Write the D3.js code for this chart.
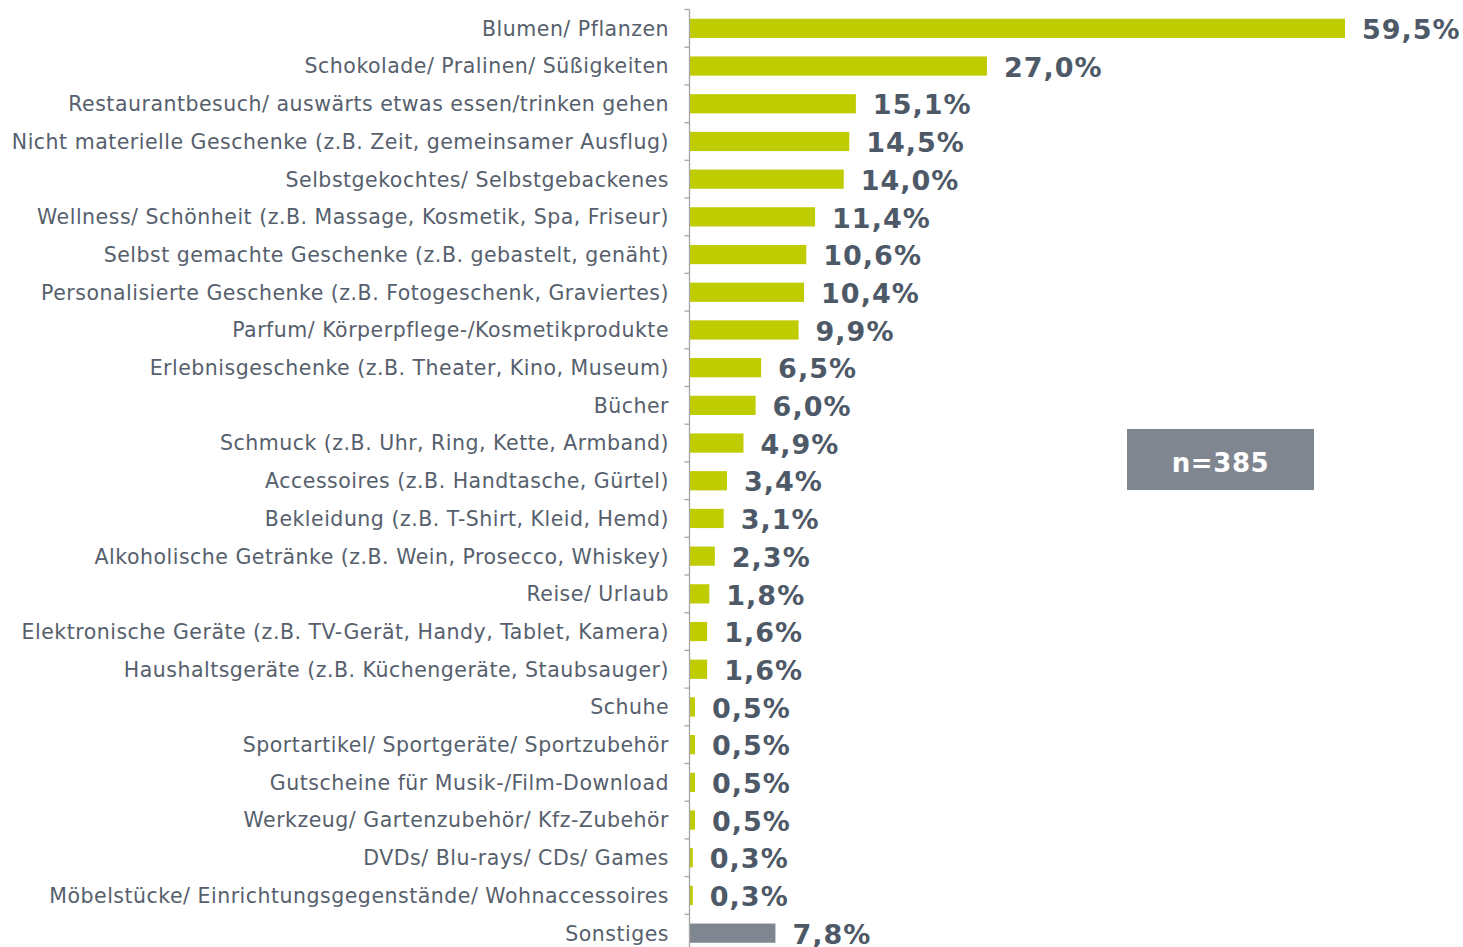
<!doctype html>
<html>
<head>
<meta charset="UTF-8">
<script src="https://cdnjs.cloudflare.com/ajax/libs/d3/7.8.5/d3.min.js"></script>
<style>
  body { margin: 0; background: #fff; }
  svg { display: block; font-family: "DejaVu Sans", Verdana, sans-serif; }
</style>
</head>
<body>
<svg width="1463" height="947"></svg>
<script>
// categories, top to bottom
var categories = [
  "Blumen/ Pflanzen",
  "Schokolade/ Pralinen/ Süßigkeiten",
  "Restaurantbesuch/ auswärts etwas essen/trinken gehen",
  "Nicht materielle Geschenke (z.B. Zeit, gemeinsamer Ausflug)",
  "Selbstgekochtes/ Selbstgebackenes",
  "Wellness/ Schönheit (z.B. Massage, Kosmetik, Spa, Friseur)",
  "Selbst gemachte Geschenke (z.B. gebastelt, genäht)",
  "Personalisierte Geschenke (z.B. Fotogeschenk, Graviertes)",
  "Parfum/ Körperpflege-/Kosmetikprodukte",
  "Erlebnisgeschenke (z.B. Theater, Kino, Museum)",
  "Bücher",
  "Schmuck (z.B. Uhr, Ring, Kette, Armband)",
  "Accessoires (z.B. Handtasche, Gürtel)",
  "Bekleidung (z.B. T-Shirt, Kleid, Hemd)",
  "Alkoholische Getränke (z.B. Wein, Prosecco, Whiskey)",
  "Reise/ Urlaub",
  "Elektronische Geräte (z.B. TV-Gerät, Handy, Tablet, Kamera)",
  "Haushaltsgeräte (z.B. Küchengeräte, Staubsauger)",
  "Schuhe",
  "Sportartikel/ Sportgeräte/ Sportzubehör",
  "Gutscheine für Musik-/Film-Download",
  "Werkzeug/ Gartenzubehör/ Kfz-Zubehör",
  "DVDs/ Blu-rays/ CDs/ Games",
  "Möbelstücke/ Einrichtungsgegenstände/ Wohnaccessoires",
  "Sonstiges"
];
var values = [59.5, 27.0, 15.1, 14.5, 14.0, 11.4, 10.6, 10.4, 9.9, 6.5, 6.0, 4.9, 3.4, 3.1, 2.3, 1.8, 1.6, 1.6, 0.5, 0.5, 0.5, 0.5, 0.3, 0.3, 7.8];
var sampleNote = "n=385";

var svg = d3.select("svg");
var x0 = 689.5;

var x = d3.scaleLinear().domain([0, 59.5]).range([x0, 1345]);
var y = d3.scaleBand().domain(categories).range([9.5, 9.5 + 37.7 * categories.length]).paddingInner(0.49).paddingOuter(0.245);

var fmt = function(v) { return v.toFixed(1).replace(".", ",") + "%"; };

// bars
svg.append("g").selectAll("rect")
  .data(values)
  .enter().append("rect")
  .attr("x", x0)
  .attr("y", function(d, i) { return y(categories[i]); })
  .attr("width", function(d) { return x(d) - x0; })
  .attr("height", y.bandwidth())
  .attr("fill", function(d, i) { return categories[i] == "Sonstiges" ? "#7f868f" : "#bfcc00"; });

// axis line + ticks between categories
var axis = svg.append("g").attr("stroke", "#a6a6a6").attr("stroke-width", 1.3);
axis.append("line").attr("x1", x0).attr("x2", x0).attr("y1", 9.5).attr("y2", 947);
var step = y.step();
d3.range(categories.length + 1).forEach(function(i) {
  var yy = 9.5 + i * step;
  axis.append("line").attr("x1", x0 - 5).attr("x2", x0).attr("y1", yy).attr("y2", yy);
});

// category labels
svg.append("g").selectAll("text")
  .data(categories)
  .enter().append("text")
  .attr("x", 669)
  .attr("y", function(d) { return y(d) + y.bandwidth() / 2; })
  .attr("dy", "0.36em")
  .attr("text-anchor", "end")
  .attr("fill", "#56606d")
  .style("font-size", "20.5px")
  .style("letter-spacing", "0.5px")
  .text(function(d) { return d; });

// value labels
svg.append("g").selectAll("text")
  .data(values)
  .enter().append("text")
  .attr("x", function(d) { return x(d) + 17; })
  .attr("y", function(d, i) { return y(categories[i]) + y.bandwidth() / 2 + 1; })
  .attr("dy", "0.36em")
  .attr("fill", "#4e5967")
  .style("font-size", "27px")
  .style("font-weight", "bold")
  .style("letter-spacing", "1px")
  .text(fmt);

// n box
svg.append("rect").attr("x", 1127).attr("y", 429).attr("width", 187).attr("height", 61).attr("fill", "#80868f");
svg.append("text").attr("x", 1220.5).attr("y", 463).attr("dy", "0.36em")
  .attr("text-anchor", "middle").attr("fill", "#fff")
  .style("font-size", "26px").style("font-weight", "bold")
  .style("letter-spacing", "0.6px")
  .text(sampleNote);
</script>
</body>
</html>
